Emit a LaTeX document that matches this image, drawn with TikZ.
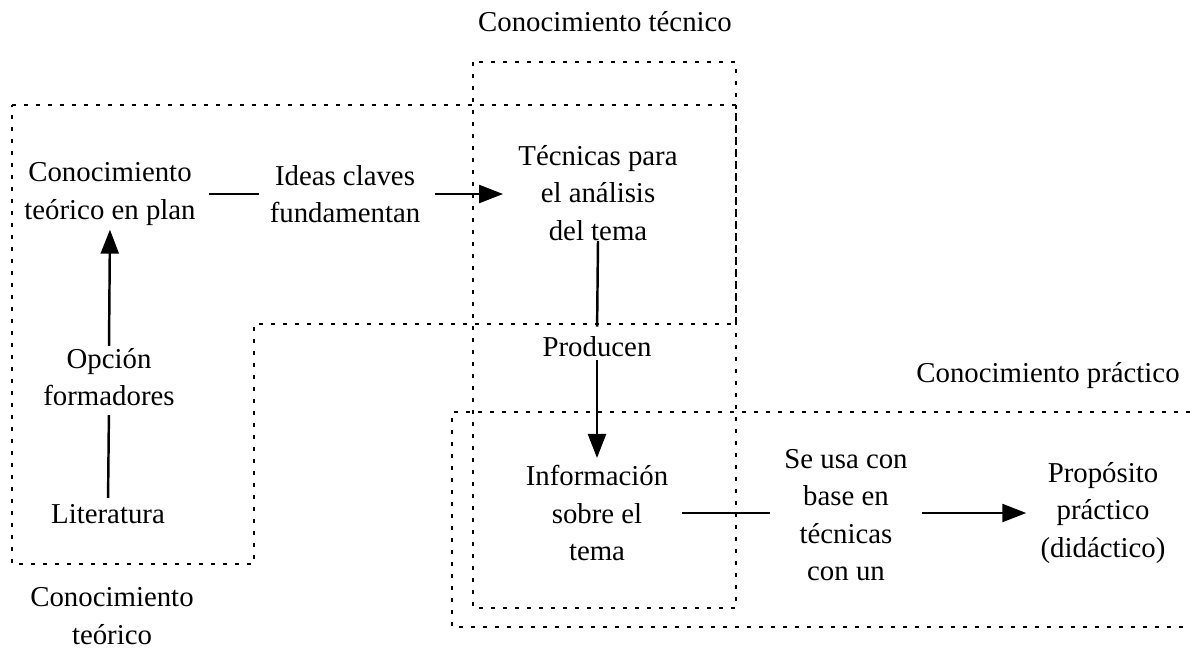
\documentclass[tikz,border=0pt]{standalone}
\usepackage{fontspec}
\setmainfont{Liberation Serif}
\usetikzlibrary{shapes,arrows.meta,positioning}
\usepackage{xcolor}

\begin{document}
\begin{tikzpicture}[x=0.02cm, y=-0.02cm,
        >={Triangle[length=0.48cm, width=0.36cm]},
        txt/.style={align=center, inner sep=0pt, font=\fontsize{16.4}{21.3}\selectfont},
        zone/.style={line width=1.2pt, dash pattern=on 0.08cm off 0.16cm},
        link/.style={line width=1.4pt}]
        \useasboundingbox (0,0) rectangle (1194,650);

        \draw[zone] (12,105) -- (736,105) -- (736,324) -- (254,324) -- (254,564) -- (12,564) -- cycle;
        \draw[zone] (473,62) rectangle (736,608);
        \draw[zone] (1190,412) -- (452,412) -- (452,627) -- (1190,627);

        \node[txt] (tecLabel) at (605,22) {Conocimiento técnico};
        \node[txt] (praLabel) at (1048,376) {Conocimiento práctico};
        \node[txt] (teoLabel) at (112,616) {Conocimiento\\teórico};

        \node[txt] (plan) at (110,194) {Conocimiento\\teórico en plan};
        \node[txt] (ideas) at (345,194) {Ideas claves\\fundamentan};
        \node[txt] (tecnicas) at (598,193) {Técnicas para\\el análisis\\del tema};
        \node[txt] (producen) at (597,347) {Producen};
        \node[txt] (opcion) at (109,377) {Opción\\formadores};
        \node[txt] (literatura) at (108,514) {Literatura};
        \node[txt] (info) at (597,513) {Información\\sobre el\\tema};
        \node[txt] (seusa) at (846,515) {Se usa con\\base en\\técnicas\\con un};
        \node[txt] (proposito) at (1103,513) {Propósito\\práctico\\(didáctico)};

        \draw[link, shorten <=0.27cm, shorten >=0.2cm] (plan.east) -- (ideas.west |- plan.east);
        \draw[link, ->, shorten <=0.28cm, shorten >=0.3cm] (ideas.east) -- (tecnicas.west |- ideas.east);
        \draw[link, shorten <=0cm, shorten >=0.2cm] (tecnicas.south) -- (producen.north);
        \draw[link, ->, shorten <=0.06cm, shorten >=0.14cm] (producen.south) -- (info.north);
        \draw[link, shorten <=0.26cm, shorten >=0.28cm] (info.east) -- (seusa.west |- info.east);
        \draw[link, ->, shorten <=0.28cm, shorten >=0.28cm] (seusa.east |- info.east) -- (proposito.west |- info.east);
        \draw[link, shorten <=0.12cm, shorten >=0.18cm] (literatura.north) -- (opcion.south);
        \draw[link, ->, shorten <=0.04cm, shorten >=0.08cm] (opcion.north) -- (plan.south);
    \end{tikzpicture}
\end{document}
